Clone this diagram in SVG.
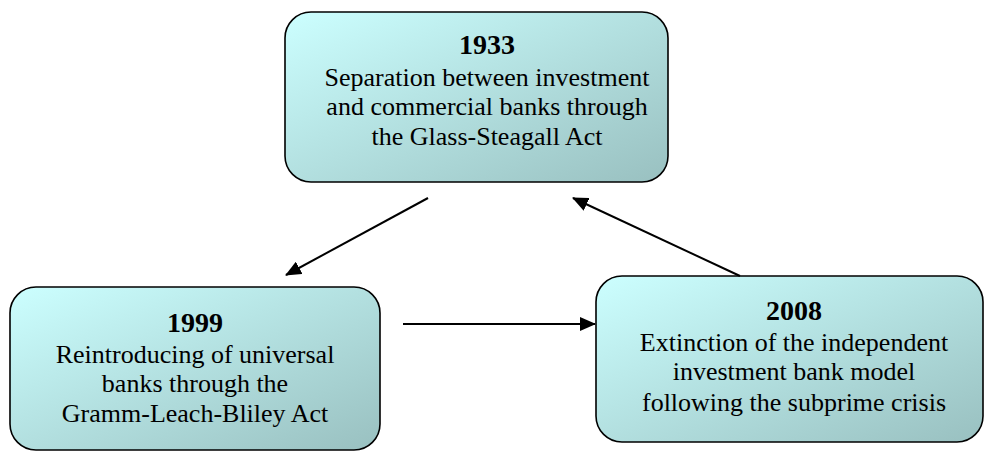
<svg xmlns="http://www.w3.org/2000/svg" width="985" height="451" viewBox="0 0 985 451">
<defs>
<linearGradient id="g" x1="0" y1="0" x2="1" y2="1">
<stop offset="0" stop-color="#ccffff"/>
<stop offset="1" stop-color="#99c0c0"/>
</linearGradient>
<marker id="ah" markerWidth="16" markerHeight="14" refX="15" refY="7" orient="auto" markerUnits="userSpaceOnUse">
<path d="M0,0 L16,7 L0,14 Z" fill="#000"/>
</marker>
<style>
.box{fill:url(#g);stroke:#000;stroke-width:1.6}
.t{font-family:"Liberation Serif","Times New Roman",serif;font-size:26px;fill:#000;text-anchor:middle}
.y{font-family:"Liberation Serif","Times New Roman",serif;font-size:28px;font-weight:bold;fill:#000;text-anchor:middle}
.c{stroke:#000;stroke-width:2;fill:none;marker-end:url(#ah)}
</style>
</defs>
<rect width="985" height="451" fill="#fff"/>
<g id="n1933">
<rect class="box" x="285" y="12" width="383" height="170" rx="26"/>
<text class="y" x="487" y="54">1933</text>
<text class="t" x="487" y="86">Separation between investment</text>
<text class="t" x="487" y="115">and commercial banks through</text>
<text class="t" x="487" y="145">the Glass-Steagall Act</text>
</g>
<g id="n1999">
<rect class="box" x="10" y="287" width="370" height="163" rx="26"/>
<text class="y" x="195" y="332">1999</text>
<text class="t" x="195" y="363">Reintroducing of universal</text>
<text class="t" x="195" y="392">banks through the</text>
<text class="t" x="195" y="422">Gramm-Leach-Bliley Act</text>
</g>
<g id="n2008">
<rect class="box" x="596" y="276" width="387" height="166" rx="26"/>
<text class="y" x="794" y="320">2008</text>
<text class="t" x="794" y="351">Extinction of the independent</text>
<text class="t" x="794" y="380">investment bank model</text>
<text class="t" x="794" y="411">following the subprime crisis</text>
</g>
<g id="connectors">
<line class="c" x1="428" y1="198" x2="286" y2="275"/>
<line class="c" x1="403" y1="324" x2="595" y2="324"/>
<line class="c" x1="740" y1="276" x2="573" y2="198"/>
</g>
</svg>
